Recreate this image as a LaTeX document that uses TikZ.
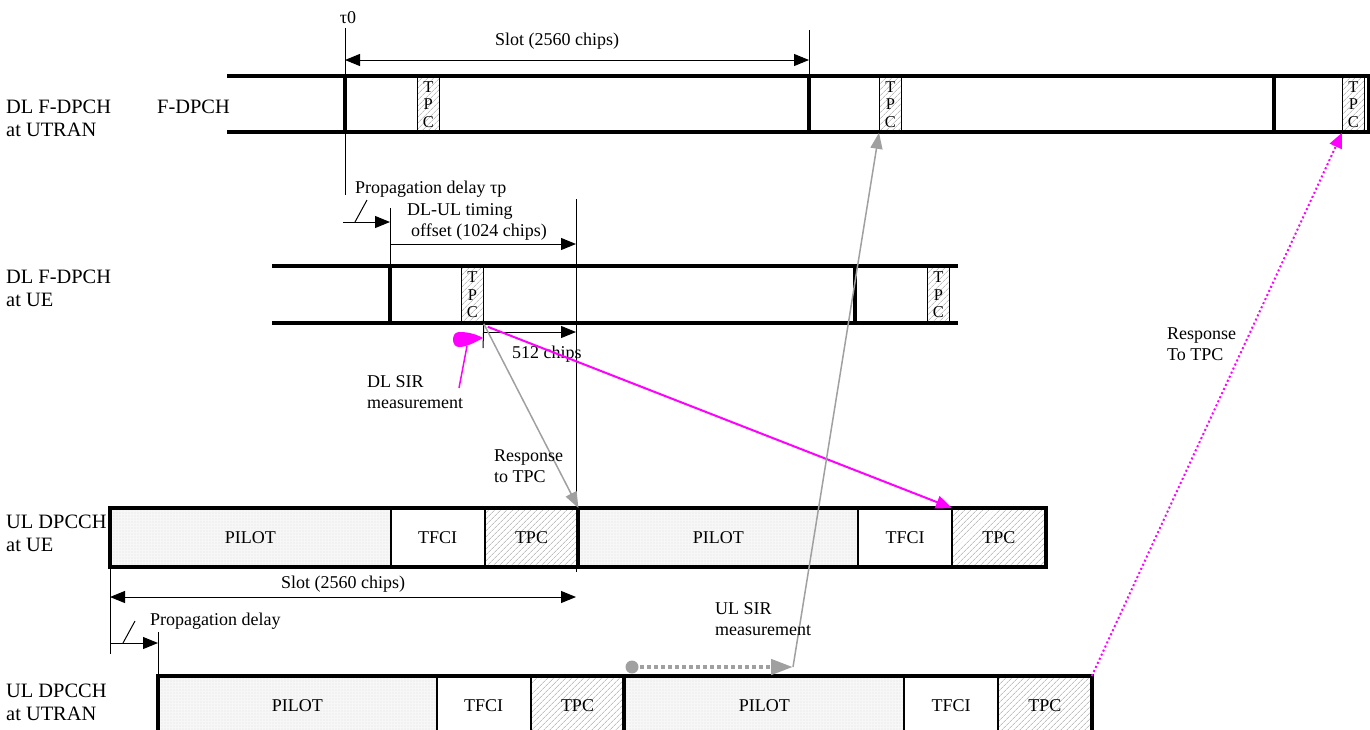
\documentclass[tikz,border=0pt]{standalone}
\usepackage{fontspec}
\setmainfont{Liberation Serif}
\usetikzlibrary{arrows.meta,patterns.meta}
\definecolor{mag}{RGB}{255,0,255}
\definecolor{gry}{RGB}{160,160,160}
\tikzset{
  txt/.style={font=\fontsize{18}{21}\selectfont, inner sep=0pt, align=left, anchor=west},
  rowlbl/.style={font=\fontsize{20.4}{23}\selectfont, inner sep=0pt, align=left, anchor=west},
  rowline/.style={line width=3.5pt},
  slotbar/.style={line width=4pt},
  thinline/.style={line width=1pt},
  blkarrow/.style={line width=1pt, -{Triangle[length=15pt,width=12pt]}},
  dblarrow/.style={line width=1pt, {Triangle[length=15pt,width=12pt]}-{Triangle[length=15pt,width=12pt]}},
  hatch/.style={preaction={fill=white}, pattern={Lines[angle=45,distance=4pt,line width=0.6pt]}, pattern color=gray!75},
  tpcv/.style={draw, line width=0.8pt, inner sep=0pt, minimum width=22pt, anchor=north west, hatch, font=\fontsize{16.5}{17.5}\selectfont, align=center},
  field/.style={draw, line width=0.8pt, inner sep=0pt, minimum height=58pt, anchor=north west, font=\fontsize{18}{21}\selectfont},
  pilot/.style={field, preaction={fill=gray!6}, pattern={Dots[distance=3pt,radius=0.45pt]}, pattern color=gray!60},
  tfci/.style={field, fill=white},
  tpcf/.style={field, hatch},
  grayarrow/.style={draw=gry, line width=1.5pt, -{Triangle[length=16pt,width=12pt]}},
}
\begin{document}
\begin{tikzpicture}[x=1pt,y=-1pt]
\useasboundingbox (0,0) rectangle (1370,729);

% ---------- DL F-DPCH at UTRAN ----------
\node[tpcv, minimum height=56pt] (dT1) at (417,76) {T\\P\\C};
\node[tpcv, minimum height=56pt] (dT2) at (879,76) {T\\P\\C};
\node[tpcv, minimum height=56pt] (dT3) at (1342,76) {T\\P\\C};
\draw[rowline] (227,76) -- (1370,76);
\draw[rowline] (227,132) -- (1370,132);
\draw[slotbar] (345,76) -- (345,132);
\draw[slotbar] (809,76) -- (809,132);
\draw[slotbar] (1274,76) -- (1274,132);
\draw[line width=3pt] (1368,76) -- (1368,132);

\node[rowlbl] (l1) at (6,118.5) {DL F-DPCH\\at UTRAN};
\node[rowlbl] (fd) at (157,107) {F-DPCH};

\node[txt, anchor=center] (tau0) at (348,18) {τ0};
\coordinate (t0top) at (345,28);
\coordinate (t0bot) at (345,195);
\draw[thinline] (t0top) -- (t0bot);
\draw[thinline] (809,30) -- (809,76);
\draw[dblarrow] (345,60) -- (809,60);
\node[txt, anchor=center] (slot1) at (557,41) {Slot (2560 chips)};

% ---------- DL F-DPCH at UE ----------
\node[tpcv, minimum height=57pt] (uT1) at (461,266) {T\\P\\C};
\node[tpcv, minimum height=57pt] (uT2) at (927,266) {T\\P\\C};
\draw[rowline] (272,266) -- (958,266);
\draw[rowline] (272,323) -- (958,323);
\draw[slotbar] (390,266) -- (390,323);
\draw[slotbar] (855,266) -- (855,323);
\node[rowlbl] (l2) at (6,288.5) {DL F-DPCH\\at UE};

\node[txt] (pd1) at (355,189) {Propagation delay τp};
\draw[blkarrow] (343,222) -- (390,222);
\draw[thinline] (355,222) -- (367,200);
\draw[thinline] (390,208) -- (390,266);
\draw[thinline] (576,199) -- (576,572);
\draw[blkarrow] (390,244) -- (576,244);
\node[txt] (dlul) at (407,222) {DL-UL timing\\\hspace*{4pt}offset (1024 chips)};

\draw[thinline] (uT1.south east) -- (483,348);
\draw[blkarrow] (483,332) -- (576,332);
\node[txt] (c512) at (512,354) {512 chips};

% DL SIR measurement marker
\fill[mag] (483,338) .. controls (474,333) and (466,332) .. (459,332)
  .. controls (451,332) and (451,347) .. (459,347)
  .. controls (466,347) and (474,343) .. (483,338) -- cycle;
\coordinate (dlsir) at (459,388);
\draw[mag, line width=1.5pt] (467,346) -- (dlsir);
\node[txt] (dlsirl) at (367,392) {DL SIR\\measurement};

% ---------- UL DPCCH at UE ----------
\node[pilot, minimum width=280pt] (eP1) at (110,508) {PILOT};
\node[tfci, minimum width=93pt] (eF1) at (eP1.north east) {TFCI};
\node[tpcf, minimum width=93pt] (eT1) at (eF1.north east) {TPC};
\node[pilot, minimum width=279pt] (eP2) at (eT1.north east) {PILOT};
\node[tfci, minimum width=93pt] (eF2) at (eP2.north east) {TFCI};
\node[tpcf, minimum width=93pt] (eT2) at (eF2.north east) {TPC};
\draw[rowline] (eP1.north west) rectangle (eT2.south east);
\draw[slotbar] (eP2.north west) -- (eP2.south west);
\node[rowlbl] (l3) at (6,533.5) {UL DPCCH\\at UE};

\draw[thinline] (eP1.south west) -- (110,654);
\draw[dblarrow] (110,597) -- (576,597);
\node[txt, anchor=center] (slot2) at (343,584) {Slot (2560 chips)};
\draw[blkarrow] (110,643) -- (158,643);
\draw[thinline] (123,643) -- (135,621);
\draw[thinline] (158,632) -- (158,676);
\node[txt] (pd2) at (150,621) {Propagation delay};

% ---------- UL DPCCH at UTRAN ----------
\node[pilot, minimum width=278pt] (rP1) at (158,676) {PILOT};
\node[tfci, minimum width=93pt] (rF1) at (rP1.north east) {TFCI};
\node[tpcf, minimum width=93pt] (rT1) at (rF1.north east) {TPC};
\node[pilot, minimum width=279pt] (rP2) at (rT1.north east) {PILOT};
\node[tfci, minimum width=93pt] (rF2) at (rP2.north east) {TFCI};
\node[tpcf, minimum width=93pt] (rT2) at (rF2.north east) {TPC};
\draw[rowline] (rP1.north west) rectangle (rT2.south east);
\draw[slotbar] (rP2.north west) -- (rP2.south west);
\node[rowlbl] (l4) at (6,702) {UL DPCCH\\at UTRAN};

% ---------- connectors ----------
\draw[grayarrow] (uT1.south east) -- (eT1.north east);
\node[txt] (resp1) at (494,466) {Response\\to TPC};

\draw[mag, line width=2pt, -{Triangle[length=16pt,width=13pt]}]
  ([shift={(4,3)}]uT1.south east) -- (eT2.north west);

\coordinate (ulsirc) at (632,667);
\coordinate (ulsir) at (793,667);
\fill[gry] (ulsirc) circle (6.5pt);
\draw[gry, line width=4.5pt, dash pattern=on 4pt off 3pt, -{Triangle[length=22pt,width=15pt]}]
  ([xshift=8pt]ulsirc) -- (ulsir);
\draw[grayarrow] (ulsir) -- (dT2.south west);
\node[txt] (ulsirl) at (715,619) {UL SIR\\measurement};

\draw[mag, line width=2pt, dash pattern=on 2pt off 2.5pt, -{Triangle[length=15pt,width=13pt]}]
  (rT2.north east) -- (dT3.south west);
\node[txt] (resp2) at (1167,344) {Response\\To TPC};
\end{tikzpicture}
\end{document}
